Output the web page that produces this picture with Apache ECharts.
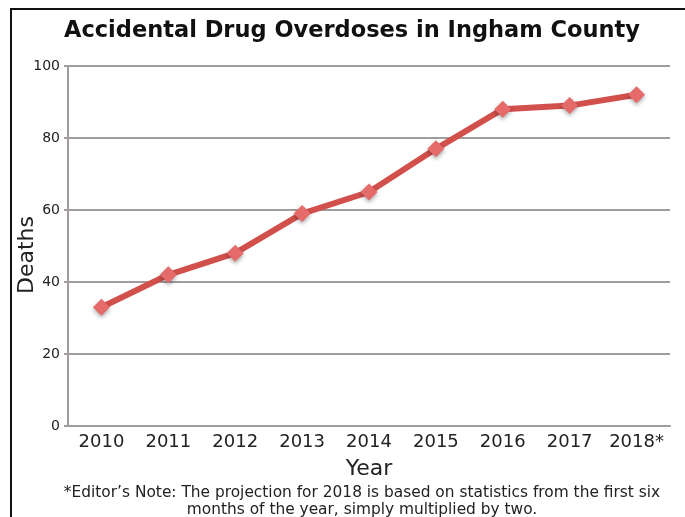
<!DOCTYPE html>
<html>
<head>
<meta charset="utf-8">
<script src="https://cdn.jsdelivr.net/npm/echarts@6/dist/echarts.min.js"></script>
<style>
  html, body { margin: 0; padding: 0; background: #fff; }
  #chart { width: 685px; height: 517px; }
</style>
</head>
<body>
<div id="chart"></div>
<script>
  // data
  const years = ['2010', '2011', '2012', '2013', '2014', '2015', '2016', '2017', '2018*']
  const deaths = [33, 42, 48, 59, 65, 77, 88, 89, 92]
  const noteLines = [
    '*Editor\u2019s Note: The projection for 2018 is based on statistics from the first six',
    'months of the year, simply multiplied by two.'
  ]

  const chart = echarts.init(document.getElementById('chart'))
  const font = 'DejaVu Sans, Verdana, sans-serif'

  chart.setOption({
    animation: false,
    textStyle: { fontFamily: font },
    title: {
      text: 'Accidental Drug Overdoses in Ingham County',
      left: 347,
      textAlign: 'center',
      top: 15,
      textStyle: { fontSize: 22.5, fontWeight: 'bold', color: '#111', fontFamily: font }
    },
    grid: { left: 68, right: 15, top: 66, bottom: 91, outerBoundsMode: 'none' },
    graphic: [
      {
        type: 'polyline',
        shape: { points: [[11, 517], [11, 9], [685, 9]] },
        style: { stroke: '#111', lineWidth: 2, fill: null }
      },
      {
        type: 'text',
        x: 362,
        y: 484,
        style: {
          text: noteLines.join('\n'),
          align: 'center',
          verticalAlign: 'top',
          font: '15.4px ' + font,
          fill: '#222',
          lineHeight: 17
        }
      }
    ],
    xAxis: {
      type: 'category',
      data: years,
      boundaryGap: true,
      name: 'Year',
      nameLocation: 'middle',
      nameGap: 32,
      nameMoveOverlap: false,
      nameTextStyle: { fontSize: 22, color: '#222' },
      axisLine: { lineStyle: { color: '#a09c9c', width: 2 } },
      axisTick: { show: false },
      axisLabel: { fontSize: 18, color: '#222', margin: 7, interval: 0, hideOverlap: false }
    },
    yAxis: {
      type: 'value',
      min: 0,
      max: 100,
      interval: 20,
      name: 'Deaths',
      nameLocation: 'middle',
      nameGap: 30,
      nameMoveOverlap: false,
      nameTextStyle: { fontSize: 22, color: '#222', padding: [0, 18, 0, 0] },
      axisLine: { show: true, lineStyle: { color: '#a09c9c', width: 2 } },
      axisTick: { show: true, length: 4, lineStyle: { color: '#a09c9c', width: 2 } },
      axisLabel: { fontSize: 14, color: '#222', margin: 8 },
      splitLine: { lineStyle: { color: '#a09c9c', width: 2 } }
    },
    series: [
      {
        type: 'line',
        data: deaths,
        symbol: 'diamond',
        symbolSize: 17,
        lineStyle: { color: '#d2504b', width: 6 },
        itemStyle: {
          color: '#e56b6b',
          shadowColor: 'rgba(0,0,0,0.35)',
          shadowBlur: 4,
          shadowOffsetY: 2
        }
      }
    ]
  })
</script>
</body>
</html>
